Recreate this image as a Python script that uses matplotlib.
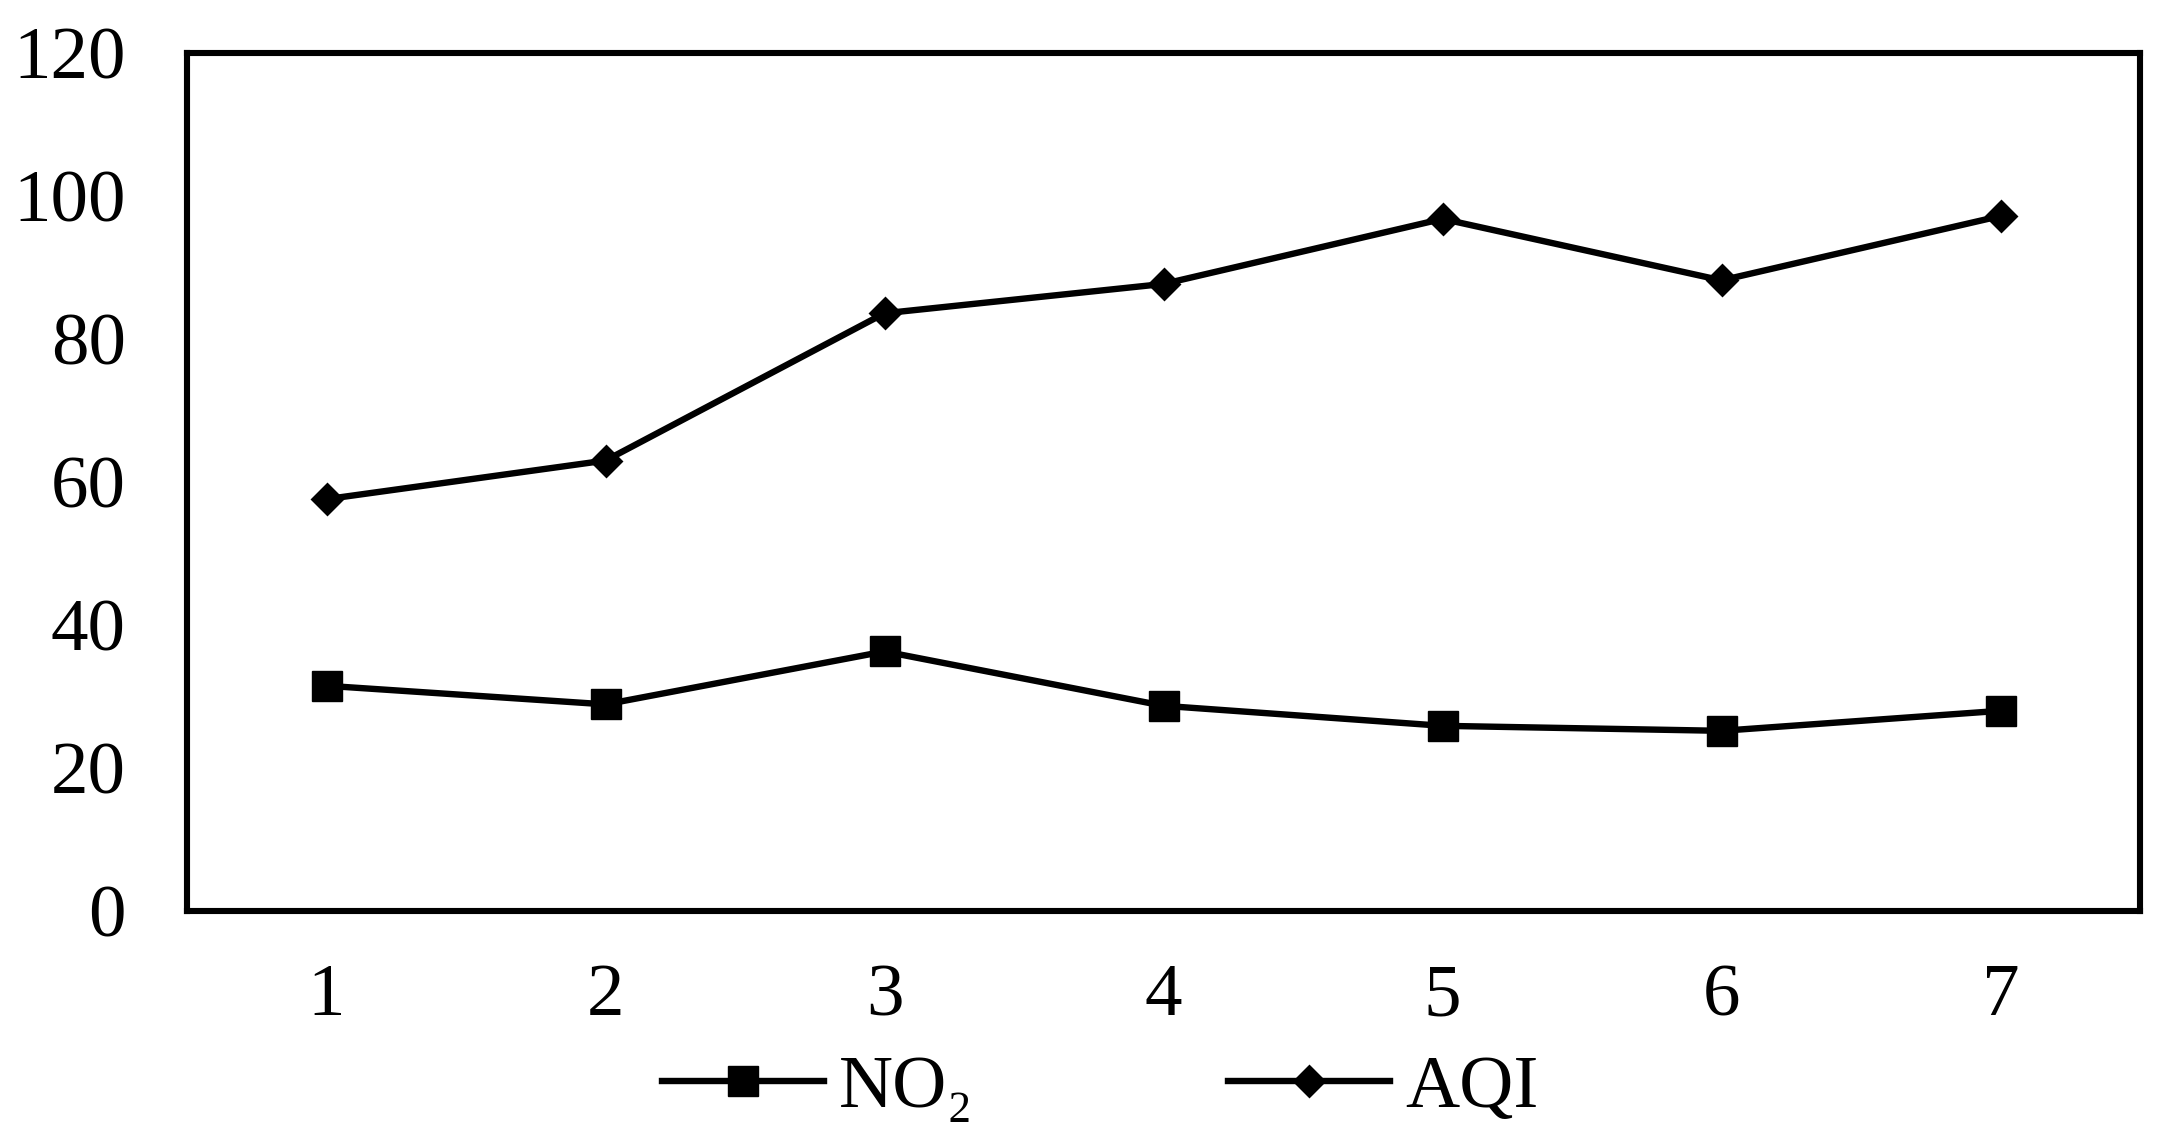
import matplotlib
matplotlib.use('Agg')
import matplotlib.pyplot as plt

plt.rcParams['font.family'] = ['Liberation Serif', 'DejaVu Serif']

days = [1, 2, 3, 4, 5, 6, 7]
no2 = [31.5, 28.9, 36.3, 28.7, 25.9, 25.2, 28.0]
aqi = [57.6, 63.0, 83.6, 87.7, 96.8, 88.2, 97.2]
y_ticks = [0, 20, 40, 60, 80, 100, 120]

fig = plt.figure(figsize=(21.64, 11.39), dpi=100)
ax = fig.add_axes([187 / 2164, 228 / 1139, 1953 / 2164, 858 / 1139])

ax.plot(days, no2, color='black', lw=4.6, marker='s', ms=21, mew=1,
        solid_joinstyle='round', label='NO₂')
ax.plot(days, aqi, color='black', lw=4.6, marker='D', ms=15.5, mew=2,
        solid_joinstyle='round', label='AQI')

ax.set_xlim(0.5, 7.5)
ax.set_ylim(0, 120)
ax.set_xticks(days)
ax.set_yticks(y_ticks)
ax.tick_params(axis='both', length=0, labelsize=54)
ax.tick_params(axis='x', pad=38)
ax.tick_params(axis='y', pad=44)
for s in ax.spines.values():
    s.set_linewidth(4.4)

fig.legend(loc='center', bbox_to_anchor=(1100 / 2164, 1 - 1089 / 1139),
           ncol=2, frameon=False, fontsize=54, handlelength=2.16,
           handletextpad=0.2, columnspacing=3.4, borderpad=0)

plt.savefig('out.png', dpi=100)
